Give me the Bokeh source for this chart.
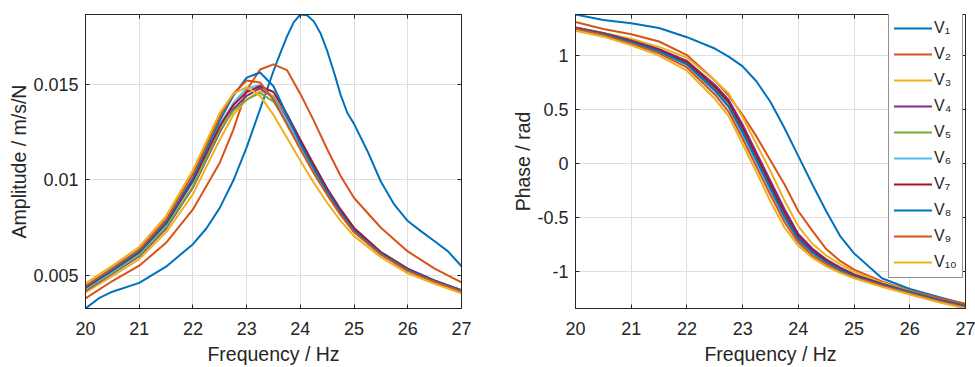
from bokeh.plotting import figure
from bokeh.layouts import row
from bokeh.models import Range1d, FixedTicker, LinearAxis, Legend, LegendItem
from bokeh.embed import file_html
from bokeh.resources import INLINE

# ---------------- data ----------------
freq = [20, 20.5, 21, 21.5, 22, 22.5, 22.75, 23, 23.25, 23.5, 23.75, 24,
        24.25, 24.5, 24.75, 25, 25.5, 26, 26.5, 27]

# V1 amplitude has a sharp peak, so it was read on a finer frequency grid
freq_v1 = [20, 20.25, 20.5, 21, 21.5, 22, 22.25, 22.5, 22.75, 23, 23.25, 23.5, 23.625, 23.75,
           23.875, 24, 24.125, 24.25, 24.375, 24.5, 24.625, 24.75, 24.875, 25, 25.25, 25.5,
           25.75, 26, 26.25, 26.5, 26.75, 27]
amp_v1 = [0.00326, 0.00380, 0.00414, 0.00460, 0.00545, 0.00663, 0.00745, 0.00853, 0.00995, 0.01170,
          0.01370, 0.01570, 0.01662, 0.01750, 0.01825, 0.01866, 0.01862, 0.01830, 0.01768, 0.01675,
          0.01565, 0.01445, 0.01350, 0.01293, 0.01150, 0.00990, 0.00870, 0.00784, 0.00730, 0.00678,
          0.00625, 0.00547]

amp_v2 = [0.00379, 0.00470, 0.00550, 0.00670, 0.00845, 0.01090, 0.01260, 0.01470, 0.01578, 0.01605,
          0.01575, 0.01450, 0.01310, 0.01160, 0.01020, 0.00905, 0.00749, 0.00625, 0.00535, 0.00463]
amp_v3 = [0.00410, 0.00495, 0.00585, 0.00725, 0.00925, 0.01210, 0.01340, 0.01420, 0.01465, 0.01440,
          0.01330, 0.01200, 0.01070, 0.00948, 0.00838, 0.00742, 0.00618, 0.00530, 0.00468, 0.00412]
amp_v4 = [0.00420, 0.00508, 0.00600, 0.00745, 0.00960, 0.01250, 0.01370, 0.01440, 0.01480, 0.01430,
          0.01320, 0.01190, 0.01060, 0.00940, 0.00832, 0.00738, 0.00616, 0.00530, 0.00470, 0.00420]
amp_v5 = [0.00425, 0.00513, 0.00605, 0.00752, 0.00965, 0.01260, 0.01360, 0.01420, 0.01455, 0.01410,
          0.01300, 0.01175, 0.01048, 0.00930, 0.00825, 0.00733, 0.00613, 0.00528, 0.00469, 0.00419]
amp_v6 = [0.00430, 0.00520, 0.00615, 0.00765, 0.00990, 0.01290, 0.01400, 0.01480, 0.01495, 0.01430,
          0.01310, 0.01180, 0.01050, 0.00930, 0.00825, 0.00730, 0.00612, 0.00527, 0.00468, 0.00418]
amp_v7 = [0.00435, 0.00525, 0.00620, 0.00772, 0.00995, 0.01280, 0.01390, 0.01460, 0.01490, 0.01460,
          0.01345, 0.01210, 0.01080, 0.00955, 0.00845, 0.00748, 0.00622, 0.00535, 0.00473, 0.00422]
amp_v8 = [0.00440, 0.00530, 0.00625, 0.00780, 0.01010, 0.01310, 0.01440, 0.01535, 0.01562, 0.01490,
          0.01340, 0.01190, 0.01060, 0.00940, 0.00830, 0.00735, 0.00615, 0.00530, 0.00470, 0.00420]
amp_v9 = [0.00445, 0.00538, 0.00635, 0.00792, 0.01030, 0.01330, 0.01450, 0.01520, 0.01510, 0.01420,
          0.01290, 0.01160, 0.01035, 0.00920, 0.00815, 0.00725, 0.00608, 0.00522, 0.00465, 0.00415]
amp_v10 = [0.00458, 0.00550, 0.00648, 0.00810, 0.01050, 0.01350, 0.01450, 0.01486, 0.01440, 0.01340,
           0.01220, 0.01100, 0.00985, 0.00880, 0.00785, 0.00705, 0.00595, 0.00510, 0.00455, 0.00405]

phase_v1 = [1.380, 1.330, 1.300, 1.255, 1.170, 1.065, 0.990, 0.900, 0.760, 0.570,
            0.330, 0.070, -0.190, -0.440, -0.670, -0.830, -1.060, -1.160, -1.230, -1.300]
phase_v2 = [1.310, 1.245, 1.197, 1.130, 1.005, 0.770, 0.630, 0.450, 0.250, 0.030,
            -0.190, -0.440, -0.620, -0.790, -0.900, -0.980, -1.090, -1.175, -1.240, -1.295]
phase_v3 = [1.260, 1.210, 1.155, 1.080, 0.980, 0.770, 0.650, 0.430, 0.180, -0.070,
            -0.340, -0.580, -0.740, -0.850, -0.930, -1.000, -1.100, -1.180, -1.255, -1.315]
phase_v4 = [1.260, 1.210, 1.140, 1.060, 0.950, 0.730, 0.590, 0.360, 0.100, -0.160,
            -0.420, -0.650, -0.785, -0.885, -0.960, -1.025, -1.110, -1.185, -1.255, -1.315]
phase_v5 = [1.255, 1.205, 1.135, 1.050, 0.935, 0.700, 0.560, 0.320, 0.060, -0.200,
            -0.460, -0.680, -0.810, -0.900, -0.970, -1.035, -1.115, -1.190, -1.260, -1.320]
phase_v6 = [1.250, 1.195, 1.120, 1.035, 0.915, 0.670, 0.520, 0.270, 0.010, -0.250,
            -0.510, -0.710, -0.830, -0.920, -0.990, -1.045, -1.125, -1.195, -1.265, -1.325]
phase_v7 = [1.255, 1.205, 1.135, 1.055, 0.940, 0.710, 0.570, 0.330, 0.070, -0.190,
            -0.450, -0.670, -0.800, -0.895, -0.970, -1.030, -1.115, -1.190, -1.260, -1.320]
phase_v8 = [1.250, 1.200, 1.125, 1.040, 0.920, 0.680, 0.530, 0.290, 0.030, -0.230,
            -0.490, -0.700, -0.820, -0.910, -0.980, -1.040, -1.120, -1.190, -1.260, -1.320]
phase_v9 = [1.245, 1.190, 1.110, 1.020, 0.890, 0.640, 0.480, 0.230, -0.030, -0.290,
            -0.540, -0.730, -0.850, -0.930, -1.000, -1.050, -1.130, -1.200, -1.270, -1.330]
phase_v10 = [1.230, 1.175, 1.095, 1.000, 0.860, 0.600, 0.440, 0.180, -0.080, -0.350,
             -0.590, -0.760, -0.870, -0.950, -1.010, -1.060, -1.140, -1.210, -1.280, -1.340]

labels = ["V₁", "V₂", "V₃", "V₄", "V₅", "V₆", "V₇", "V₈", "V₉", "V₁₀"]
x_ticks = [20, 21, 22, 23, 24, 25, 26, 27]
amp_ticks = [0.005, 0.01, 0.015]
amp_tick_labels = ["0.005", "0.01", "0.015"]
phase_ticks = [-1, -0.5, 0, 0.5, 1]
phase_tick_labels = ["-1", "-0.5", "0", "0.5", "1"]

amp_freqs = [freq_v1] + [freq] * 9
amps = [amp_v1, amp_v2, amp_v3, amp_v4, amp_v5, amp_v6, amp_v7, amp_v8, amp_v9, amp_v10]
phase_freqs = [freq] * 10
phases = [phase_v1, phase_v2, phase_v3, phase_v4, phase_v5, phase_v6, phase_v7, phase_v8, phase_v9, phase_v10]

# ---------------- style ----------------
COLORS = ["#0072BD", "#D95319", "#EDB120", "#7E2F8E", "#77AC30",
          "#4DBEEE", "#A2142F", "#0072BD", "#D95319", "#EDB120"]
FONT = "Liberation Sans"
INK = "#262626"
GRID = "#dfdfdf"


def style_main_axis(ax, standoff):
    ax.axis_line_color = INK
    ax.axis_line_width = 1
    ax.major_tick_line_color = INK
    ax.major_tick_in = 4
    ax.major_tick_out = 0
    ax.minor_tick_line_color = None
    ax.major_label_text_font = FONT
    ax.major_label_text_font_size = "18px"
    ax.major_label_text_color = INK
    ax.major_label_standoff = standoff
    ax.axis_label_text_font = FONT
    ax.axis_label_text_font_size = "19.5px"
    ax.axis_label_text_color = INK
    ax.axis_label_text_font_style = "normal"


def add_box_axis(p, ticker, side):
    ax = LinearAxis(ticker=ticker)
    ax.axis_line_color = INK
    ax.major_tick_line_color = INK
    ax.major_tick_in = 4
    ax.major_tick_out = 0
    ax.minor_tick_line_color = None
    ax.major_label_text_font_size = "1px"
    ax.major_label_text_color = None
    ax.major_label_standoff = 0
    p.add_layout(ax, side)


def make_fig(width, border_left, border_right, xs, ys, yticks, ytick_labels, ylabel):
    y_lo = min(min(a) for a in ys)
    y_hi = max(max(a) for a in ys)
    p = figure(width=width, height=367, output_backend="svg", toolbar_location=None,
               x_range=Range1d(freq[0], freq[-1]), y_range=Range1d(y_lo, y_hi),
               min_border_left=border_left, min_border_right=border_right,
               min_border_top=14, min_border_bottom=59)
    p.outline_line_color = INK
    p.outline_line_width = 1
    p.background_fill_color = "white"
    p.border_fill_color = "white"

    xt = FixedTicker(ticks=x_ticks)
    yt = FixedTicker(ticks=yticks)
    p.xaxis.ticker = xt
    p.yaxis.ticker = yt
    p.xaxis.axis_label = "Frequency / Hz"
    p.yaxis.axis_label = ylabel
    p.yaxis.major_label_overrides = {float(t): s for t, s in zip(yticks, ytick_labels)}
    style_main_axis(p.xaxis[0], 13)
    style_main_axis(p.yaxis[0], 7)
    p.xaxis[0].axis_label_standoff = 5
    p.yaxis[0].axis_label_standoff = 0

    p.xgrid.ticker = xt
    p.ygrid.ticker = yt
    p.xgrid.grid_line_color = GRID
    p.ygrid.grid_line_color = GRID

    add_box_axis(p, xt, "above")
    add_box_axis(p, yt, "right")

    rs = []
    for fx, series, c in zip(xs, ys, COLORS):
        r = p.line(fx, series, line_color=c, line_width=2, line_join="round", line_cap="round")
        rs.append(r)
    return p, rs


p1, _ = make_fig(488, 85, 27, amp_freqs, amps, amp_ticks, amp_tick_labels, "Amplitude / m/s/N")
p2, rs2 = make_fig(487, 87, 10, phase_freqs, phases, phase_ticks, phase_tick_labels, "Phase / rad")

legend = Legend(items=[LegendItem(label=l, renderers=[r]) for l, r in zip(labels, rs2)],
                location=(313, 30))
legend.border_line_color = INK
legend.border_line_width = 1
legend.background_fill_color = "white"
legend.background_fill_alpha = 1.0
legend.padding = 5
legend.spacing = 6
legend.margin = 0
legend.glyph_width = 38
legend.glyph_height = 20
legend.label_height = 20
legend.label_standoff = 2
legend.label_text_font = FONT
legend.label_text_font_size = "16px"
legend.label_text_color = INK
p2.add_layout(legend)

layout = row(p1, p2)
open("out.html", "w").write(file_html(layout, INLINE))
